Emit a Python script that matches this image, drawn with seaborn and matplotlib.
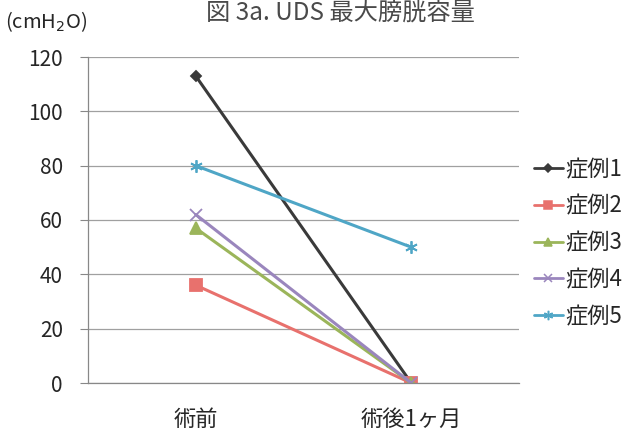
import matplotlib
matplotlib.use("Agg")
import matplotlib.pyplot as plt
from matplotlib.lines import Line2D
import seaborn as sns
import pandas as pd

# Data
time_points = ["術前", "術後1ヶ月"]
cases = ["症例1", "症例2", "症例3", "症例4", "症例5"]
case1 = [113, 0]
case2 = [36, 0]
case3 = [57, 0]
case4 = [62, 0]
case5 = [80, 50]
y_ticks = [0, 20, 40, 60, 80, 100, 120]

series = [case1, case2, case3, case4, case5]
colors = ["#3a3a3a", "#e8716d", "#9bb55a", "#9a86bd", "#4fa6c6"]
markers = ["D", "s", "^", "x", (6, 2, 0)]
msizes = [5, 8, 8, 8, 9]

sns.set_theme(style="white")
plt.rcParams["font.family"] = ["Noto Sans CJK JP", "DejaVu Sans"]
plt.rcParams["mathtext.fontset"] = "dejavusans"

fig = plt.figure(figsize=(6.25, 4.34), dpi=100)
ax = fig.add_axes([88 / 625, 1 - 383 / 434, (519 - 88) / 625, (383 - 57) / 434])

handles = []
for name, vals, c, m, ms in zip(cases, series, colors, markers, msizes):
    df = pd.DataFrame({"x": [0, 1], "y": vals})
    sns.lineplot(data=df, x="x", y="y", ax=ax, color=c, linewidth=2.2,
                 marker=m, markersize=ms, markeredgewidth=1.3,
                 markeredgecolor=c, markerfacecolor=c, sort=False)
    handles.append(Line2D([0], [0], color=c, lw=2.0, marker=m,
                          markersize=ms * 0.75, markeredgecolor=c,
                          markerfacecolor=c, markeredgewidth=1.1))

ax.set_xlim(-0.5, 1.5)
ax.set_ylim(0, 120)
ax.set_yticks(y_ticks)
ax.set_xticks([0, 1])
ax.set_xticklabels(time_points, fontsize=16)
ax.set_xticks([-0.5, 0.5, 1.5], minor=True)
ax.tick_params(axis="x", which="major", length=0, pad=18)
ax.tick_params(axis="x", which="minor", length=6, color="#888888", width=0.8)
ax.tick_params(axis="y", length=6, color="#888888", width=0.8, labelsize=15,
               pad=12, left=True)
ax.set_xlabel("")
ax.set_ylabel("")
ax.grid(axis="y", color="#a0a0a0", linewidth=0.9)
ax.set_axisbelow(True)
for s in ["top", "right"]:
    ax.spines[s].set_visible(False)
for s in ["left", "bottom"]:
    ax.spines[s].set_color("#888888")
    ax.spines[s].set_linewidth(0.9)

fig.legend(handles, cases, loc="center left", bbox_to_anchor=(534 / 625, 1 - 243 / 434),
           frameon=False, fontsize=16, handlelength=1.3, handletextpad=0.12,
           labelspacing=0.62, borderpad=0, borderaxespad=0)

fig.text(340 / 625, 0.999, "図 3a. UDS 最大膀胱容量", ha="center", va="top",
         fontsize=17.5, color="#4a4a4a")
fig.text(5 / 625, 1 - 22 / 434, "(cmH$_2$O)", ha="left", va="center", fontsize=14.5)

fig.savefig("out.png", dpi=100, facecolor="white")
